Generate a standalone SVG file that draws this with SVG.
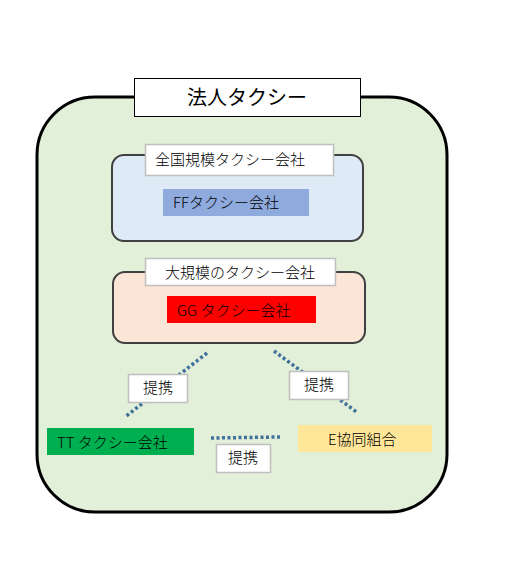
<svg xmlns="http://www.w3.org/2000/svg" width="507" height="580" viewBox="0 0 507 580">
<style>
text{font-family:"Noto Sans CJK JP","Noto Sans",sans-serif;fill:#000;font-weight:300}
.lbl{fill:#fff;stroke:#bfbfbf;stroke-width:1.5}
.dot{stroke:#41719c;stroke-width:3.5;stroke-dasharray:3 2.5;fill:none}
.t15{font-size:15px}
</style>
<rect width="507" height="580" fill="#fff"/>
<g id="outer">
<rect x="37" y="97" width="410" height="415" rx="58" ry="58" fill="#e2efd9" stroke="#000" stroke-width="3"/>
</g>
<g id="title">
<rect x="134.5" y="78.5" width="226" height="38" fill="#fff" stroke="#000" stroke-width="1"/>
<text x="247" y="105" font-size="20" text-anchor="middle" style="font-weight:400">法人タクシー</text>
</g>
<g id="national">
<rect x="112" y="155" width="251" height="86" rx="12" fill="#deebf7" stroke="#404040" stroke-width="2"/>
<rect class="lbl" x="145.5" y="144.5" width="188" height="31"/>
<text class="t15" x="155" y="165">全国規模タクシー会社</text>
</g>
<g id="ff">
<rect x="163" y="189" width="146" height="27" fill="#8faadc"/>
<text class="t15" x="173" y="208">FFタクシー会社</text>
</g>
<g id="large">
<rect x="113" y="272" width="252" height="71" rx="12" fill="#fbe5d6" stroke="#404040" stroke-width="2"/>
<rect class="lbl" x="145.5" y="258.5" width="190" height="27"/>
<text class="t15" x="165" y="278">大規模のタクシー会社</text>
</g>
<g id="gg">
<rect x="167" y="296" width="149" height="27" fill="#ff0000"/>
<text class="t15" x="177" y="316">GG タクシー会社</text>
</g>
<g id="connectors">
<line class="dot" x1="207" y1="353" x2="125" y2="417"/>
<line class="dot" x1="274" y1="351" x2="358" y2="413"/>
<line class="dot" x1="211" y1="438" x2="280" y2="437"/>
</g>
<g id="tt">
<rect x="47" y="428" width="147" height="27" fill="#00b050"/>
<text class="t15" x="57" y="448">TT タクシー会社</text>
</g>
<g id="e">
<rect x="298" y="425" width="134" height="27" fill="#ffe699"/>
<text class="t15" x="328" y="445">E協同組合</text>
</g>
<g id="label-left">
<rect class="lbl" x="128.5" y="374.5" width="59" height="28"/>
<text class="t15" x="158" y="393" text-anchor="middle">提携</text>
</g>
<g id="label-right">
<rect class="lbl" x="289.5" y="371.5" width="59" height="28"/>
<text class="t15" x="319" y="390" text-anchor="middle">提携</text>
</g>
<g id="label-bottom">
<rect class="lbl" x="216.5" y="444.5" width="54" height="28"/>
<text class="t15" x="243" y="463" text-anchor="middle">提携</text>
</g>
</svg>
